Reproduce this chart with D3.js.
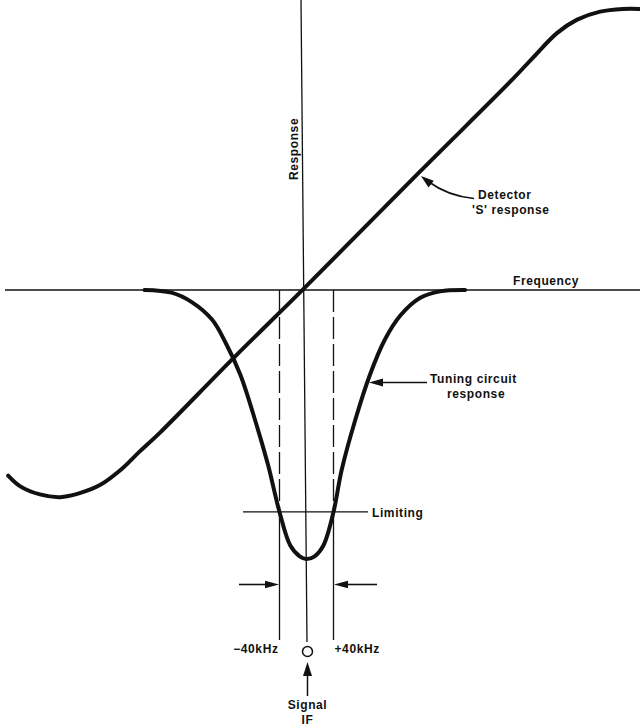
<!DOCTYPE html>
<html>
<head>
<meta charset="utf-8">
<script src="https://cdn.jsdelivr.net/npm/d3@7"></script>
<style>
html,body{margin:0;padding:0;background:#fff;}
svg{display:block;}
text{font-family:"Liberation Sans",Arial,sans-serif;font-weight:bold;font-size:12px;letter-spacing:0.6px;fill:#111;}
</style>
</head>
<body>
<svg id="chart" width="640" height="726"></svg>
<script>
// Frequency offset from the signal IF (kHz) and relative response
const tuningFreq = [-240, -200, -170, -140, -120, -98, -76, -57, -40, -24, -10, 0, 12, 25, 40, 52, 72, 94, 116, 139, 168, 198, 235];
const tuningResp = [0, -1, -4.5, -11, -19.5, -31.5, -48.5, -65, -82.5, -95, -99, -100, -99, -95, -82.5, -67, -48.5, -31.5, -18.5, -9.5, -3, -0.5, 0];
const detectorFreq = [-442, -424, -395, -365, -336, -306, -276, -247, -217, -109, -4, 168, 304, 336, 371, 401, 435, 469, 494];
const detectorResp = [-69, -73, -76, -77, -75.5, -72.5, -67, -60, -53, -25.5, 0.5, 44, 78, 86.5, 95.5, 100.5, 103.5, 104.5, 104.5];
const limitingLevel = -82.5;
const bandEdges = [-40, 40];
const bandLabels = ["\u221240kHz", "+40kHz"];
const axisLabels = {x: "Frequency", y: "Response"};

const svg = d3.select("#chart");
const x = d3.scaleLinear().domain([-450, 500]).range([306.5 - 450 * 0.675, 306.5 + 500 * 0.675]);
const y = d3.scaleLinear().domain([-110, 110]).range([290 + 110 * 2.69, 290 - 110 * 2.69]);

const ink = "#111";
const thin = 1.3;

function arrowHead(tip, from, len, hw) {
  const dx = tip[0] - from[0], dy = tip[1] - from[1];
  const d = Math.hypot(dx, dy);
  const ux = dx / d, uy = dy / d;
  const bx = tip[0] - ux * len, by = tip[1] - uy * len;
  const px = -uy, py = ux;
  svg.append("path")
    .attr("d", `M${tip[0]},${tip[1]}L${bx + px * hw},${by + py * hw}L${bx - px * hw},${by - py * hw}Z`)
    .attr("fill", ink);
}

// Axes
svg.append("line").attr("x1", 5).attr("x2", 640).attr("y1", y(0)).attr("y2", y(0))
  .attr("stroke", ink).attr("stroke-width", thin);
svg.append("line").attr("x1", x(0) - 5.5).attr("y1", 0).attr("x2", x(0) + 0.5).attr("y2", 642)
  .attr("stroke", ink).attr("stroke-width", thin);

// Limiting line
svg.append("line").attr("x1", 243).attr("x2", 368).attr("y1", y(limitingLevel)).attr("y2", y(limitingLevel))
  .attr("stroke", ink).attr("stroke-width", thin);

// Band edge lines: dashed above limiting, solid below
bandEdges.forEach(f => {
  svg.append("line").attr("x1", x(f)).attr("x2", x(f)).attr("y1", y(0)).attr("y2", y(limitingLevel))
    .attr("stroke", ink).attr("stroke-width", thin).attr("stroke-dasharray", "22,5");
  svg.append("line").attr("x1", x(f)).attr("x2", x(f)).attr("y1", y(limitingLevel)).attr("y2", 640)
    .attr("stroke", ink).attr("stroke-width", thin);
});

const line = d3.line().x(d => x(d[0])).y(d => y(d[1])).curve(d3.curveCatmullRom.alpha(0.5));

svg.append("path").datum(tuningFreq.map((f, i) => [f, tuningResp[i]]))
  .attr("d", line).attr("fill", "none").attr("stroke", ink).attr("stroke-width", 4)
  .attr("stroke-linecap", "round").attr("stroke-linejoin", "round");
svg.append("path").datum(detectorFreq.map((f, i) => [f, detectorResp[i]]))
  .attr("d", line).attr("fill", "none").attr("stroke", ink).attr("stroke-width", 4)
  .attr("stroke-linecap", "round").attr("stroke-linejoin", "round");

// Labels
svg.append("text").attr("x", 513).attr("y", 285).text(axisLabels.x);
svg.append("text").attr("transform", "translate(298,180) rotate(-90)").text(axisLabels.y);

svg.append("text").attr("x", 478).attr("y", 199).text("Detector");
svg.append("text").attr("x", 472).attr("y", 214).text("'S' response");
svg.append("path").attr("d", "M474,198.5 Q448,196 429,182").attr("fill", "none").attr("stroke", ink).attr("stroke-width", 1.6);
arrowHead([421, 176], [431, 184], 13, 4.2);

svg.append("text").attr("x", 430).attr("y", 383).text("Tuning circuit");
svg.append("text").attr("x", 447).attr("y", 398).text("response");
svg.append("line").attr("x1", 427).attr("x2", 380).attr("y1", 382.5).attr("y2", 382.5).attr("stroke", ink).attr("stroke-width", 1.6);
arrowHead([369, 382.5], [390, 382.5], 14, 4);

svg.append("text").attr("x", 372).attr("y", 517).text("Limiting");

// Bandwidth arrows
svg.append("line").attr("x1", 239).attr("x2", 268).attr("y1", 584.5).attr("y2", 584.5).attr("stroke", ink).attr("stroke-width", 1.6);
arrowHead([x(bandEdges[0]) - 0.5, 584.5], [239, 584.5], 14, 3.8);
svg.append("line").attr("x1", 377).attr("x2", 346).attr("y1", 584.5).attr("y2", 584.5).attr("stroke", ink).attr("stroke-width", 1.6);
arrowHead([x(bandEdges[1]) + 0.5, 584.5], [377, 584.5], 14, 3.8);

svg.append("text").attr("x", x(bandEdges[0]) - 1).attr("y", 653).attr("text-anchor", "end").text(bandLabels[0]);
svg.append("text").attr("x", x(bandEdges[1]) + 1).attr("y", 653).text(bandLabels[1]);

// Signal IF marker
svg.append("circle").attr("cx", x(0) + 1).attr("cy", 651.5).attr("r", 5).attr("fill", "none").attr("stroke", ink).attr("stroke-width", 1.5);
svg.append("line").attr("x1", x(0) + 1).attr("x2", x(0) + 1).attr("y1", 696).attr("y2", 672).attr("stroke", ink).attr("stroke-width", 1.5);
arrowHead([x(0) + 1, 662], [x(0) + 1, 696], 14, 4.5);
svg.append("text").attr("x", x(0) + 1).attr("y", 709).attr("text-anchor", "middle").text("Signal");
svg.append("text").attr("x", x(0) + 1).attr("y", 724).attr("text-anchor", "middle").text("IF");
</script>
</body>
</html>
